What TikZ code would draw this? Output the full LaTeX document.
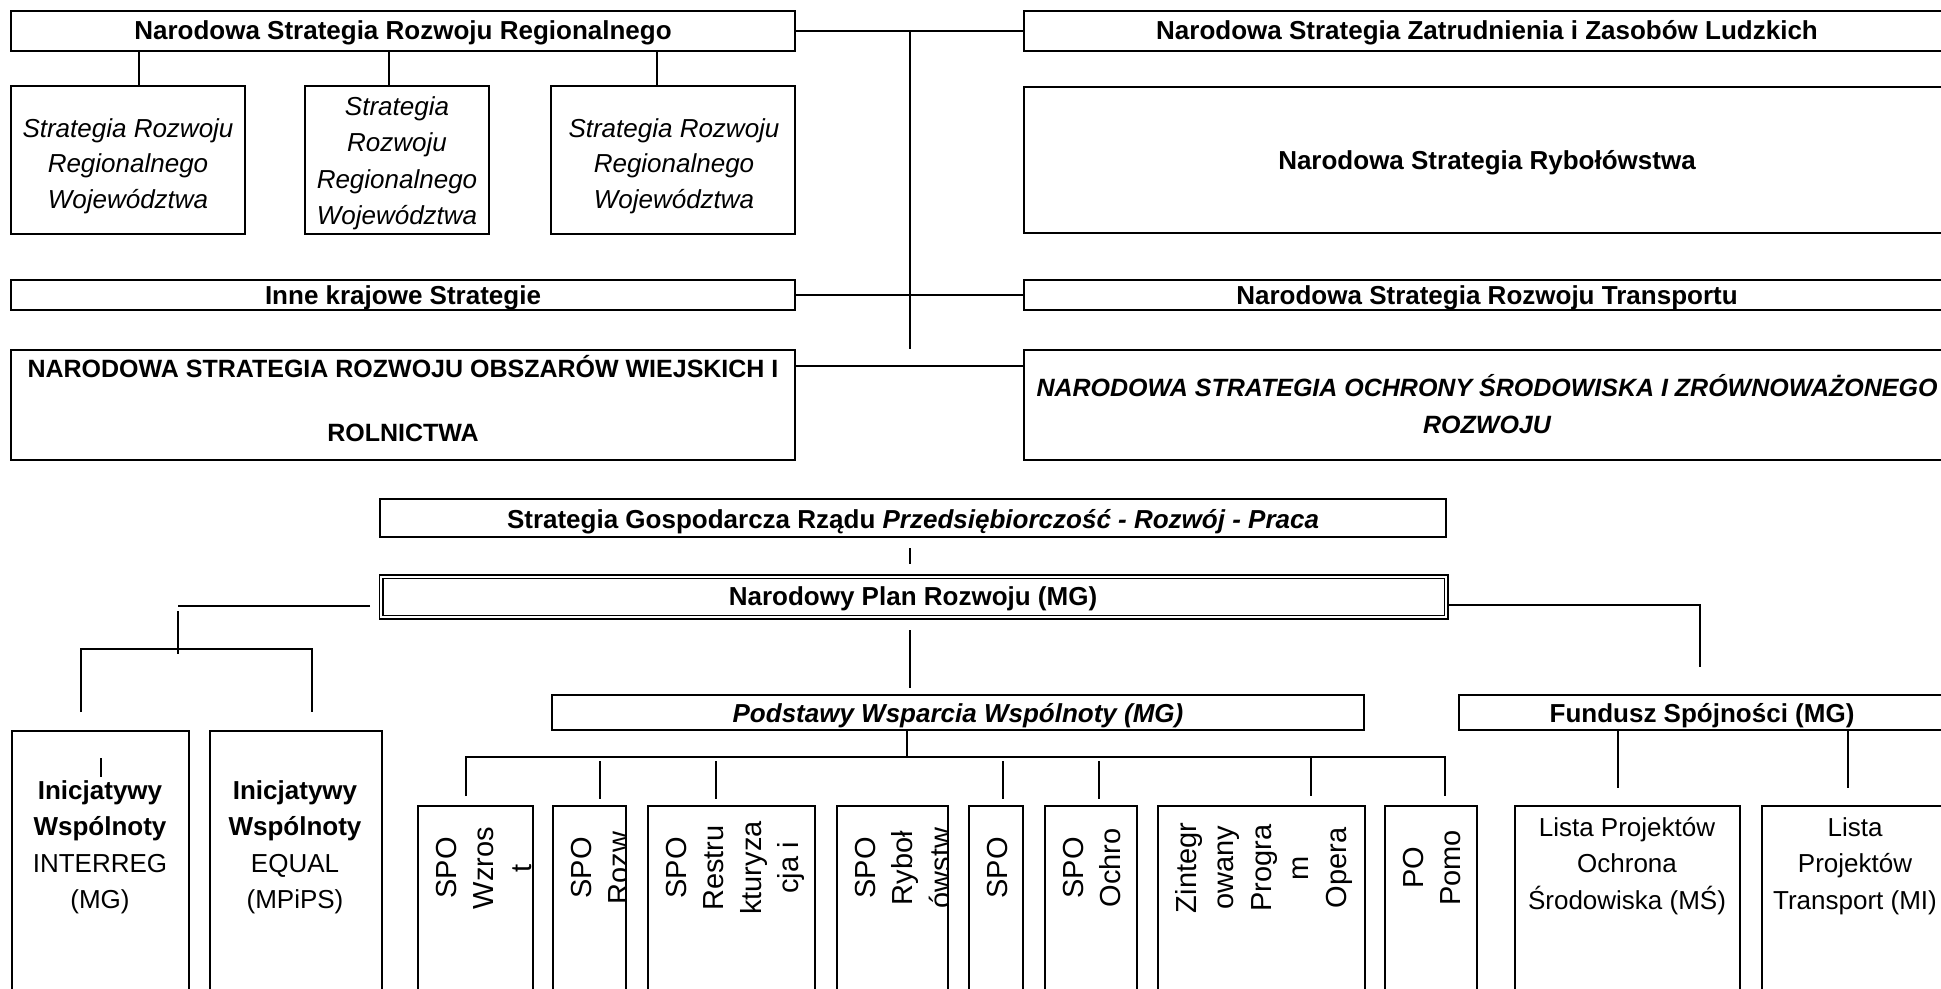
\documentclass[tikz,border=0pt]{standalone}
\usepackage{fontspec}
\setmainfont{Liberation Sans}
\newcommand{\mybox}[6][]{\node[boxst,minimum width={#5-#3},minimum height={#6-#4},#1] (#2) at ({(#3+#5)/2},{(#4+#6)/2}) {};}
\newcommand{\txl}[5][]{\node[txt,#1] (#2) at (#3,#4) {#5};}
\newcommand{\spoline}[4]{\node[spo] (#1) at ({#2+38+37.5*#3},868) {#4};}
\tikzset{
 boxst/.style={draw,line width=2pt,inner sep=0pt,outer sep=0pt},
 conn/.style={line width=1.4pt},
 txt/.style={inner sep=0pt,outer sep=0pt,anchor=base,font=\fontsize{26}{36}\selectfont},
 tb/.style={font=\fontsize{26}{36}\selectfont\bfseries},
 ti/.style={font=\fontsize{26}{36}\selectfont\itshape},
 tbi/.style={font=\fontsize{26}{36}\selectfont\bfseries\itshape},
 tcap/.style={font=\fontsize{25}{36}\selectfont\bfseries},
 tcapi/.style={font=\fontsize{25}{36}\selectfont\bfseries\itshape},
 spo/.style={rotate=90,anchor=base,inner sep=0pt,outer sep=0pt,font=\fontsize{29}{29}\selectfont},
}
\begin{document}
\begin{tikzpicture}[x=1pt,y=-1pt]
\useasboundingbox (0,0) rectangle (1941,988);
\clip (0,0) rectangle (1941,988);
\fill[white] (0,0) rectangle (1941,988);

% ---------- top section ----------
\mybox{nsrr}{11}{11}{795}{51}
\mybox{nszz}{1024}{11}{1952}{51}
\mybox{r1}{11}{86}{245}{234}
\mybox{r2}{305}{86}{489}{234}
\mybox{r3}{551}{86}{795}{234}
\mybox{nsr}{1024}{87}{1952}{233}
\mybox{inne}{11}{280}{795}{310}
\mybox{nsrt}{1024}{280}{1952}{310}
\mybox{nsrow}{11}{350}{795}{460}
\mybox{nsos}{1024}{350}{1952}{460}

\txl[tb]{t1}{403}{39}{Narodowa Strategia Rozwoju Regionalnego}
\txl[tb]{t2}{1487}{39}{Narodowa Strategia Zatrudnienia i Zasobów Ludzkich}
\txl[ti]{t3a}{128}{137}{Strategia Rozwoju}
\txl[ti]{t3b}{128}{172.5}{Regionalnego}
\txl[ti]{t3c}{128}{208}{Województwa}
\txl[ti]{t4a}{397}{115}{Strategia}
\txl[ti]{t4b}{397}{151.5}{Rozwoju}
\txl[ti]{t4c}{397}{188}{Regionalnego}
\txl[ti]{t4d}{397}{224.5}{Województwa}
\txl[ti]{t5a}{674}{137}{Strategia Rozwoju}
\txl[ti]{t5b}{674}{172.5}{Regionalnego}
\txl[ti]{t5c}{674}{208}{Województwa}
\txl[tb]{t6}{1487}{169}{Narodowa Strategia Rybołówstwa}
\txl[tb]{t7}{403}{304}{Inne krajowe Strategie}
\txl[tb]{t8}{1487}{304}{Narodowa Strategia Rozwoju Transportu}
\txl[tcap]{t9a}{403}{377}{NARODOWA STRATEGIA ROZWOJU OBSZARÓW WIEJSKICH I}
\txl[tcap]{t9b}{403}{441}{ROLNICTWA}
\txl[tcapi]{t10a}{1487}{396}{NARODOWA STRATEGIA OCHRONY ŚRODOWISKA I ZRÓWNOWAŻONEGO}
\txl[tcapi]{t10b}{1487}{433}{ROZWOJU}

\draw[conn] (nsrr.east) -- (nszz.west);
\coordinate (tA) at (910,31);
\coordinate (tB) at (910,349);
\draw[conn] (tA) -- (tB);
\draw[conn] (inne.east) -- (nsrt.west);
\coordinate (yR) at (0,366);
\draw[conn] (nsrow.east |- yR) -- (nsos.west |- yR);
\coordinate (cr1) at (139,0);
\coordinate (cr2) at (389,0);
\coordinate (cr3) at (657,0);
\draw[conn] (nsrr.south -| cr1) -- (r1.north -| cr1);
\draw[conn] (nsrr.south -| cr2) -- (r2.north -| cr2);
\draw[conn] (nsrr.south -| cr3) -- (r3.north -| cr3);

% ---------- middle section ----------
\mybox{sg}{380}{499}{1446}{537}
\mybox[double,double distance=2pt,line width=1.5pt]{npr}{381}{576.5}{1446}{617}
\mybox{pws}{552}{695}{1364}{730}
\mybox{fs}{1459}{695}{1955}{730}

\txl[tb]{t11}{913}{528}{Strategia Gospodarcza Rządu \textit{Przedsiębiorczość - Rozwój - Praca}}
\txl[tb]{t12}{913}{605}{Narodowy Plan Rozwoju (MG)}
\txl[tbi]{t13}{958}{722}{Podstawy Wsparcia Wspólnoty (MG)}
\txl[tb]{t14}{1702}{722}{Fundusz Spójności (MG)}

\coordinate (g1) at (910,548);
\coordinate (g2) at (910,564);
\draw[conn] (g1) -- (g2);
\coordinate (h1) at (370,606);
\coordinate (h2) at (178,606);
\draw[conn] (h1) -- (h2);
\coordinate (v1) at (178,611);
\coordinate (v2) at (178,654);
\draw[conn] (v1) -- (v2);
\coordinate (bl) at (81,712);
\coordinate (br) at (312,712);
\coordinate (by) at (0,649);
\draw[conn] (bl) -- (bl |- by) -- (br |- by) -- (br);
\coordinate (yN) at (0,605);
\coordinate (fc) at (1700,667);
\draw[conn] ([xshift=2.5pt]npr.east |- yN) -| (fc);
\coordinate (p1) at (910,630);
\coordinate (p2) at (910,688);
\draw[conn] (p1) -- (p2);

% ---------- bottom section ----------
\mybox{ini1}{12}{731}{189}{1000}
\mybox{ini2}{210}{731}{382}{1000}
\coordinate (st1) at (101,758);
\coordinate (st2) at (101,777);
\draw[conn] (st1) -- (st2);
\txl[tb]{i1a}{100}{799}{Inicjatywy}
\txl[tb]{i1b}{100}{835}{Wspólnoty}
\txl{i1c}{100}{872}{INTERREG}
\txl{i1d}{100}{908}{(MG)}
\txl[tb]{i2a}{295}{799}{Inicjatywy}
\txl[tb]{i2b}{295}{835}{Wspólnoty}
\txl{i2c}{295}{872}{EQUAL}
\txl{i2d}{295}{908}{(MPiPS)}

\mybox{s1}{418}{806}{533}{1000}
\mybox{s2}{553}{806}{626}{1000}
\mybox{s3}{648}{806}{815}{1000}
\mybox{s4}{837}{806}{948}{1000}
\mybox{s5}{969}{806}{1023}{1000}
\mybox{s6}{1045}{806}{1137}{1000}
\mybox{s7}{1158}{806}{1365}{1000}
\mybox{s8}{1385}{806}{1477}{1000}

\begin{scope}
\clip (s1.north west) rectangle (s1.south east);
\spoline{s1a}{418}{0}{SPO}
\spoline{s1b}{418}{1}{Wzros}
\spoline{s1c}{418}{2}{t}
\end{scope}
\begin{scope}
\clip (s2.north west) rectangle (s2.south east);
\spoline{s2a}{553}{0}{SPO}
\spoline{s2b}{553}{1}{Rozw}
\end{scope}
\begin{scope}
\clip (s3.north west) rectangle (s3.south east);
\spoline{s3a}{648}{0}{SPO}
\spoline{s3b}{648}{1}{Restru}
\spoline{s3c}{648}{2}{kturyza}
\spoline{s3d}{648}{3}{cja i}
\end{scope}
\begin{scope}
\clip (s4.north west) rectangle (s4.south east);
\spoline{s4a}{837}{0}{SPO}
\spoline{s4b}{837}{1}{Ryboł}
\spoline{s4c}{837}{2}{ówstw}
\end{scope}
\begin{scope}
\clip (s5.north west) rectangle (s5.south east);
\spoline{s5a}{969}{0}{SPO}
\end{scope}
\begin{scope}
\clip (s6.north west) rectangle (s6.south east);
\spoline{s6a}{1045}{0}{SPO}
\spoline{s6b}{1045}{1}{Ochro}
\end{scope}
\begin{scope}
\clip (s7.north west) rectangle (s7.south east);
\spoline{s7a}{1158}{0}{Zintegr}
\spoline{s7b}{1158}{1}{owany}
\spoline{s7c}{1158}{2}{Progra}
\spoline{s7d}{1158}{3}{m}
\spoline{s7e}{1158}{4}{Opera}
\end{scope}
\begin{scope}
\clip (s8.north west) rectangle (s8.south east);
\spoline{s8a}{1385}{0}{PO}
\spoline{s8b}{1385}{1}{Pomo}
\end{scope}

% bus from Podstawy
\coordinate (bx) at (907,757);
\draw[conn] (pws.south -| bx) -- (bx);
\coordinate (busL) at (466,796);
\coordinate (busR) at (1445,796);
\draw[conn] (busL) |- (bx) -| (busR);
\foreach \nm/\xx in {s2/600, s3/716, s5/1003, s6/1099}{
  \coordinate (dd) at (\xx,761);
  \draw[conn] (dd) -- (dd |- 0,799);
}
\coordinate (dz) at (1311,757);
\draw[conn] (dz) -- (1311,796);

% Fundusz
\mybox{l1}{1515}{806}{1740}{1000}
\mybox{l2}{1762}{806}{1950}{1000}
\coordinate (fa) at (1618,788);
\coordinate (fb) at (1848,788);
\draw[conn] (fs.south -| fa) -- (fa);
\draw[conn] (fs.south -| fb) -- (fb);
\txl{l1a}{1627}{836}{Lista Projektów}
\txl{l1b}{1627}{872}{Ochrona}
\txl{l1c}{1627}{909}{Środowiska (MŚ)}
\txl{l2a}{1855}{836}{Lista}
\txl{l2b}{1855}{872}{Projektów}
\txl{l2c}{1855}{909}{Transport (MI)}
\end{tikzpicture}
\end{document}
